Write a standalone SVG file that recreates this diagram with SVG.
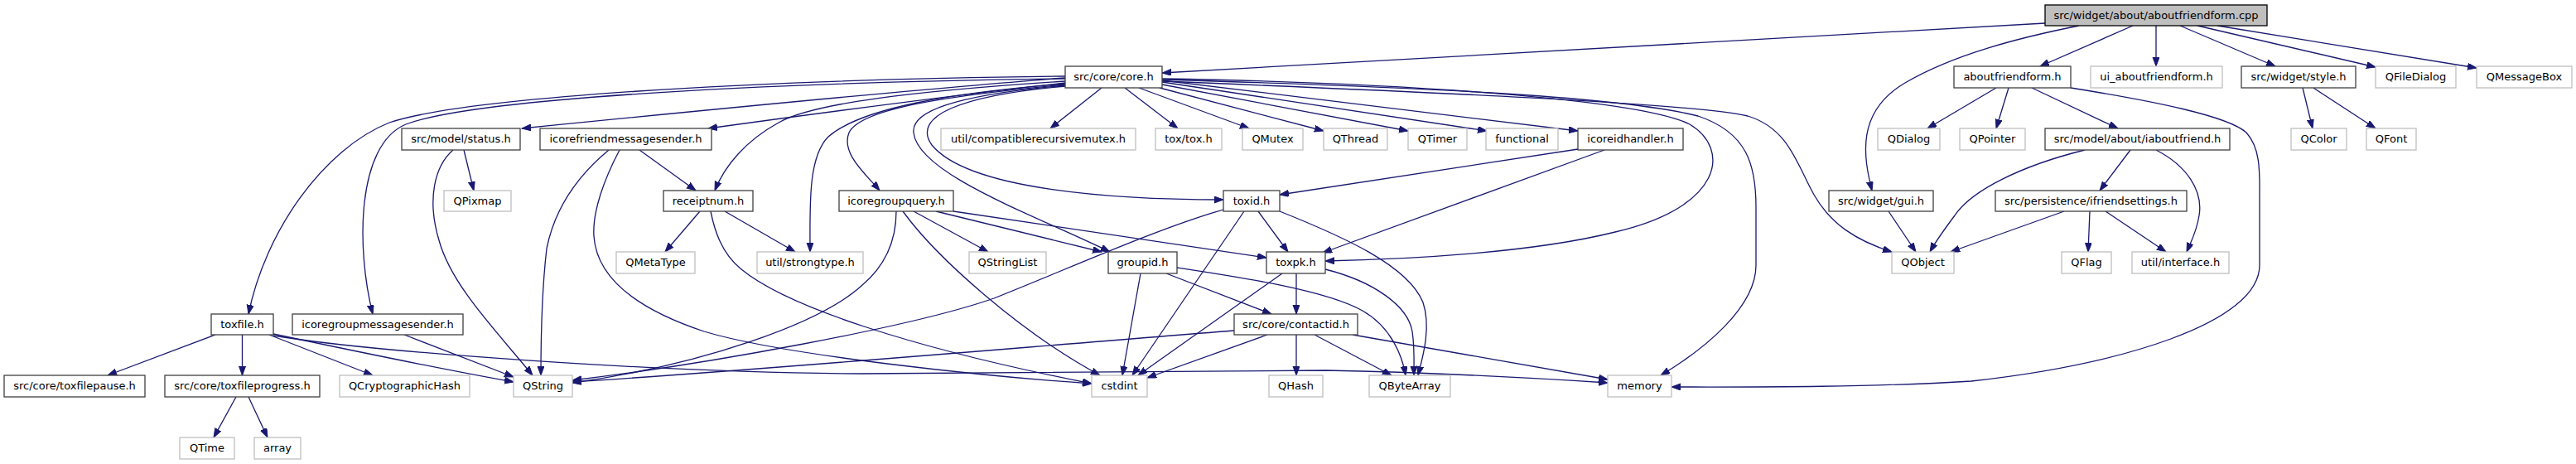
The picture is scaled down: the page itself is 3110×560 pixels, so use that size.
<svg xmlns="http://www.w3.org/2000/svg" width="3110" height="560" viewBox="0 0 3110 560">
<style>
text{font-family:"DejaVu Sans","Liberation Sans",sans-serif;font-size:13px;text-anchor:middle;fill:#000}
.n rect{fill:#fff;stroke:#404040;stroke-width:1.3}
.x rect{fill:#fff;stroke:#bfbfbf;stroke-width:1.3}
.r rect{fill:#bfbfbf;stroke:#000;stroke-width:1.3}
#edges path{fill:none;stroke:#191970;stroke-width:1.3;marker-end:url(#a)}
</style>
<defs>
<marker id="a" markerUnits="userSpaceOnUse" markerWidth="12" markerHeight="9" refX="11" refY="4" orient="auto">
<path d="M0,0 L11,4 L0,8 z" fill="#191970" stroke="#191970" stroke-width="1"/>
</marker>
</defs>
<rect width="3110" height="560" fill="#fff"/>
<g id="edges">
<path d="M2469,28 L1403,88"/>
<path d="M2510,31 C2440,45 2360,65 2300,100 C2240,135 2250,190 2260,230"/>
<path d="M2575,31 L2463,80"/>
<path d="M2603,31 L2603,80"/>
<path d="M2632,31 L2747,80"/>
<path d="M2653,31 L2868,81"/>
<path d="M2677,31 L2990,82"/>
<path d="M1286,94 C1100,108 800,138 630,155"/>
<path d="M1286,100 C1150,115 1000,135 855,155"/>
<path d="M1286,92 C900,96 560,118 470,148 C390,180 320,280 300,379"/>
<path d="M1286,95 C900,100 570,120 490,150 C430,175 430,300 450,379"/>
<path d="M1286,98 C1100,110 980,125 940,148 C900,170 875,200 863,230"/>
<path d="M1286,101 C1150,112 1040,130 1000,165 C975,190 978,250 978,304"/>
<path d="M1286,102 C1150,115 1040,130 1025,160 C1015,185 1045,210 1062,230"/>
<path d="M1286,103 C1150,115 1100,135 1103,160 C1108,210 1250,260 1340,304"/>
<path d="M1286,104 C1160,115 1100,140 1125,175 C1170,230 1350,241 1477,241"/>
<path d="M1330,106 L1268,155"/>
<path d="M1358,106 L1422,155"/>
<path d="M1375,106 L1508,155"/>
<path d="M1400,106 L1598,158"/>
<path d="M1403,102 L1700,158"/>
<path d="M1403,99 L1795,158"/>
<path d="M1403,97 L1905,158"/>
<path d="M1403,95 C1700,100 1980,120 2040,150 C2090,180 2080,250 1950,280 C1850,305 1700,313 1600,315"/>
<path d="M1403,96 C1700,105 1950,115 2050,140 C2110,160 2120,200 2120,250 L2120,320 C2120,370 2060,420 2005,453"/>
<path d="M1403,98 C1700,110 2050,125 2110,140 C2160,155 2170,200 2190,235 C2210,270 2240,290 2284,304"/>
<path d="M2410,106 L2327,155"/>
<path d="M2425,106 L2410,155"/>
<path d="M2453,106 L2557,155"/>
<path d="M2500,106 C2600,122 2690,140 2712,160 C2730,180 2728,210 2728,240 L2728,320 C2728,390 2560,440 2380,460 C2250,468 2100,467 2018,467"/>
<path d="M2517,181 C2440,200 2380,230 2360,260 C2345,280 2335,295 2330,304"/>
<path d="M2572,181 L2535,230"/>
<path d="M2603,181 C2640,200 2660,230 2655,260 C2652,280 2645,292 2640,304"/>
<path d="M2492,255 L2355,304"/>
<path d="M2523,255 L2521,304"/>
<path d="M2542,255 L2615,304"/>
<path d="M2280,255 L2313,304"/>
<path d="M2780,106 L2792,155"/>
<path d="M2793,106 L2868,155"/>
<path d="M560,181 L572,230"/>
<path d="M547,181 C525,200 515,240 530,290 C545,345 600,400 643,453"/>
<path d="M772,181 L840,230"/>
<path d="M735,181 C700,210 670,250 660,300 C653,360 653,420 653,453"/>
<path d="M748,181 C730,215 715,255 717,285 C720,330 760,370 850,400 C950,430 1200,455 1318,463"/>
<path d="M858,255 C862,275 870,305 895,325 C950,370 1100,420 1318,463"/>
<path d="M845,255 L803,304"/>
<path d="M875,255 L960,304"/>
<path d="M1082,255 C1082,290 1070,320 1040,345 C990,390 850,440 691,462"/>
<path d="M1090,255 C1130,310 1230,400 1328,453"/>
<path d="M1103,255 L1193,304"/>
<path d="M1130,255 L1330,304"/>
<path d="M1151,255 L1529,311"/>
<path d="M1477,253 C1400,275 1300,320 1200,360 C1100,395 850,440 691,459"/>
<path d="M1502,255 L1367,453"/>
<path d="M1519,255 L1555,304"/>
<path d="M1545,255 C1620,285 1700,320 1718,365 C1728,395 1718,430 1712,453"/>
<path d="M1905,180 L1545,235"/>
<path d="M1937,181 L1597,305"/>
<path d="M1377,330 L1355,453"/>
<path d="M1408,330 L1535,379"/>
<path d="M1421,323 C1500,335 1600,350 1645,375 C1680,395 1693,430 1697,453"/>
<path d="M1548,330 L1374,453"/>
<path d="M1565,330 L1565,379"/>
<path d="M1600,325 C1660,340 1700,370 1705,400 C1708,420 1707,440 1707,453"/>
<path d="M1490,399 C1200,422 900,448 691,461"/>
<path d="M1530,404 L1385,456"/>
<path d="M1565,404 L1565,453"/>
<path d="M1587,404 L1680,453"/>
<path d="M1633,404 L1941,458"/>
<path d="M260,404 L130,453"/>
<path d="M292.5,404 L292.5,453"/>
<path d="M325,404 L450,453"/>
<path d="M330,403 C420,422 530,445 620,461"/>
<path d="M330,405 C450,425 800,450 1040,451 C1300,450 1500,446 1600,447 C1750,450 1880,458 1941,462"/>
<path d="M488,404 L620,455"/>
<path d="M285,479 L258,528"/>
<path d="M300,479 L323,528"/>
</g>
<g id="root" class="r"><rect x="2469" y="6" width="268" height="25"/><text x="2603" y="23">src/widget/about/aboutfriendform.cpp</text></g>
<g id="core" class="n"><rect x="1286" y="80" width="117" height="26"/><text x="1344.5" y="97">src/core/core.h</text></g>
<g id="aboutfriendform" class="n"><rect x="2359" y="80" width="141" height="26"/><text x="2429.5" y="97">aboutfriendform.h</text></g>
<g id="ui_aboutfriendform" class="x"><rect x="2524" y="80" width="159" height="26"/><text x="2603.5" y="97">ui_aboutfriendform.h</text></g>
<g id="style" class="n"><rect x="2706" y="80" width="138" height="26"/><text x="2775" y="97">src/widget/style.h</text></g>
<g id="qfiledialog" class="x"><rect x="2868" y="80" width="97" height="26"/><text x="2916.5" y="97">QFileDialog</text></g>
<g id="qmessagebox" class="x"><rect x="2990" y="80" width="115" height="26"/><text x="3047.5" y="97">QMessageBox</text></g>
<g id="status" class="n"><rect x="485" y="155" width="143" height="26"/><text x="556.5" y="172">src/model/status.h</text></g>
<g id="icorefriendmessagesender" class="n"><rect x="652" y="155" width="207" height="26"/><text x="755.5" y="172">icorefriendmessagesender.h</text></g>
<g id="compatiblerecursivemutex" class="x"><rect x="1136" y="155" width="235" height="26"/><text x="1253.5" y="172">util/compatiblerecursivemutex.h</text></g>
<g id="toxtox" class="x"><rect x="1395" y="155" width="80" height="26"/><text x="1435" y="172">tox/tox.h</text></g>
<g id="qmutex" class="x"><rect x="1500" y="155" width="73" height="26"/><text x="1536.5" y="172">QMutex</text></g>
<g id="qthread" class="x"><rect x="1598" y="155" width="77" height="26"/><text x="1636.5" y="172">QThread</text></g>
<g id="qtimer" class="x"><rect x="1700" y="155" width="71" height="26"/><text x="1735.5" y="172">QTimer</text></g>
<g id="functional" class="x"><rect x="1794" y="155" width="87" height="26"/><text x="1837.5" y="172">functional</text></g>
<g id="icoreidhandler" class="n"><rect x="1905" y="155" width="127" height="26"/><text x="1968.5" y="172">icoreidhandler.h</text></g>
<g id="qdialog" class="x"><rect x="2267" y="155" width="75" height="26"/><text x="2304.5" y="172">QDialog</text></g>
<g id="qpointer" class="x"><rect x="2366" y="155" width="79" height="26"/><text x="2405.5" y="172">QPointer</text></g>
<g id="iaboutfriend" class="n"><rect x="2469" y="155" width="223" height="26"/><text x="2580.5" y="172">src/model/about/iaboutfriend.h</text></g>
<g id="qcolor" class="x"><rect x="2766" y="155" width="67" height="26"/><text x="2799.5" y="172">QColor</text></g>
<g id="qfont" class="x"><rect x="2857" y="155" width="60" height="26"/><text x="2887" y="172">QFont</text></g>
<g id="qpixmap" class="x"><rect x="536" y="230" width="81" height="25"/><text x="576.5" y="247">QPixmap</text></g>
<g id="receiptnum" class="n"><rect x="801" y="230" width="108" height="25"/><text x="855" y="247">receiptnum.h</text></g>
<g id="icoregroupquery" class="n"><rect x="1013" y="230" width="138" height="25"/><text x="1082" y="247">icoregroupquery.h</text></g>
<g id="toxid" class="n"><rect x="1477" y="230" width="68" height="25"/><text x="1511" y="247">toxid.h</text></g>
<g id="gui" class="n"><rect x="2208" y="230" width="126" height="25"/><text x="2271" y="247">src/widget/gui.h</text></g>
<g id="ifriendsettings" class="n"><rect x="2409" y="230" width="231" height="25"/><text x="2524.5" y="247">src/persistence/ifriendsettings.h</text></g>
<g id="qmetatype" class="x"><rect x="744" y="304" width="95" height="26"/><text x="791.5" y="321">QMetaType</text></g>
<g id="strongtype" class="x"><rect x="914" y="304" width="128" height="26"/><text x="978" y="321">util/strongtype.h</text></g>
<g id="qstringlist" class="x"><rect x="1170" y="304" width="93" height="26"/><text x="1216.5" y="321">QStringList</text></g>
<g id="groupid" class="n"><rect x="1338" y="304" width="83" height="26"/><text x="1379.5" y="321">groupid.h</text></g>
<g id="toxpk" class="n"><rect x="1529" y="304" width="71" height="26"/><text x="1564.5" y="321">toxpk.h</text></g>
<g id="qobject" class="x"><rect x="2284" y="304" width="75" height="26"/><text x="2321.5" y="321">QObject</text></g>
<g id="qflag" class="x"><rect x="2489" y="304" width="60" height="26"/><text x="2519" y="321">QFlag</text></g>
<g id="interface" class="x"><rect x="2574" y="304" width="117" height="26"/><text x="2632.5" y="321">util/interface.h</text></g>
<g id="toxfile" class="n"><rect x="255" y="379" width="75" height="25"/><text x="292.5" y="396">toxfile.h</text></g>
<g id="icoregroupmessagesender" class="n"><rect x="353" y="379" width="206" height="25"/><text x="456" y="396">icoregroupmessagesender.h</text></g>
<g id="contactid" class="n"><rect x="1490" y="379" width="149" height="25"/><text x="1564.5" y="396">src/core/contactid.h</text></g>
<g id="toxfilepause" class="n"><rect x="5" y="453" width="170" height="26"/><text x="90" y="470">src/core/toxfilepause.h</text></g>
<g id="toxfileprogress" class="n"><rect x="199" y="453" width="187" height="26"/><text x="292.5" y="470">src/core/toxfileprogress.h</text></g>
<g id="qcryptographichash" class="x"><rect x="410" y="453" width="157" height="26"/><text x="488.5" y="470">QCryptographicHash</text></g>
<g id="qstring" class="x"><rect x="620" y="453" width="71" height="26"/><text x="655.5" y="470">QString</text></g>
<g id="cstdint" class="x"><rect x="1318" y="453" width="67" height="26"/><text x="1351.5" y="470">cstdint</text></g>
<g id="qhash" class="x"><rect x="1532" y="453" width="65" height="26"/><text x="1564.5" y="470">QHash</text></g>
<g id="qbytearray" class="x"><rect x="1653" y="453" width="98" height="26"/><text x="1702" y="470">QByteArray</text></g>
<g id="memory" class="x"><rect x="1941" y="453" width="77" height="26"/><text x="1979.5" y="470">memory</text></g>
<g id="qtime" class="x"><rect x="217" y="528" width="66" height="26"/><text x="250" y="545">QTime</text></g>
<g id="array" class="x"><rect x="307" y="528" width="56" height="26"/><text x="335" y="545">array</text></g>
</svg>
